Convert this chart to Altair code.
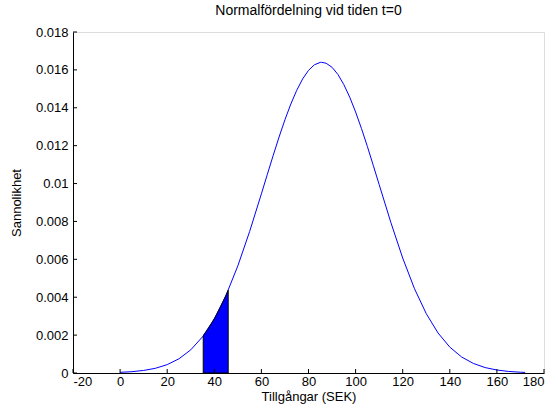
import altair as alt
import pandas as pd

# Curve
curve_x = [0, 5, 10, 15, 20, 25, 30, 35, 40, 45, 50, 55, 60, 62.5, 65, 67.5, 70, 72.5, 75,
           77.5, 80, 82.5, 85, 85.6, 87.5, 90, 92.5, 95, 97.5, 100, 102.5, 105, 107.5, 110,
           115, 120, 125, 130, 135, 140, 145, 150, 155, 160, 165, 170, 172]
curve_y = [0.0000349, 0.0000699, 0.000135, 0.000249, 0.000442, 0.000751, 0.001223, 0.001909,
           0.002860, 0.004108, 0.005656, 0.007470, 0.009458, 0.010477, 0.011483, 0.012456,
           0.013368, 0.014199, 0.014922, 0.015521, 0.015974, 0.016268, 0.016395, 0.016400,
           0.016350, 0.016136, 0.015757, 0.015227, 0.014562, 0.013779, 0.012902, 0.011956,
           0.010962, 0.009947, 0.007936, 0.006070, 0.004452, 0.003132, 0.002113, 0.001366,
           0.000847, 0.000504, 0.000287, 0.000157, 0.0000823, 0.0000414, 0.000031]

# Shaded region
shade_x = [35.3, 37, 39, 41, 43, 45, 45.9]
shade_y = [0.001958, 0.002256, 0.002647, 0.003085, 0.003572, 0.004108, 0.004364]

x_ticks = [-20, 0, 20, 40, 60, 80, 100, 120, 140, 160, 180]
y_ticks = [0, 0.002, 0.004, 0.006, 0.008, 0.010, 0.012, 0.014, 0.016, 0.018]

W, H = 471, 341
FONT = "Liberation Sans"
FS = 13

xs = alt.Scale(domain=[-20, 180], nice=False, zero=False)
ys = alt.Scale(domain=[0, 0.018], nice=False, zero=False)

x_axis = alt.Axis(values=x_ticks, grid=False, tickSize=0, labelPadding=2,
                  labelExpr="'' + datum.value",
                  domainColor="black", labelColor="black", titleColor="black",
                  labelFont=FONT, titleFont=FONT, labelFontSize=FS, titleFontSize=FS,
                  titleFontWeight="normal", titlePadding=2)
y_axis = alt.Axis(values=y_ticks, grid=False, tickSize=0, labelPadding=5,
                  format=".3~f", domainColor="black", labelColor="black",
                  titleColor="black", labelFont=FONT, titleFont=FONT,
                  labelFontSize=FS, titleFontSize=FS, titleFontWeight="normal",
                  titlePadding=12)


def X():
    return alt.X("x:Q", scale=xs, title="Tillgångar (SEK)", axis=x_axis)


def Y():
    return alt.Y("y:Q", scale=ys, title="Sannolikhet", axis=y_axis)


curve_df = pd.DataFrame({"x": curve_x, "y": curve_y})
shade_df = pd.DataFrame({"x": shade_x, "y": shade_y})
xt_df = pd.DataFrame({"x": x_ticks})
yt_df = pd.DataFrame({"y": y_ticks})

line = alt.Chart(curve_df).mark_line(color="#0000FF", strokeWidth=1).encode(x=X(), y=Y())

area = alt.Chart(shade_df).mark_area(color="#0000FF", stroke="black", strokeWidth=1).encode(
    x=X(), y=Y())

xticks = alt.Chart(xt_df).mark_rule(color="black", strokeWidth=1).encode(
    x=X(), y=alt.value(H), y2=alt.value(H - 4))

yticks = alt.Chart(yt_df).mark_rule(color="black", strokeWidth=1).encode(
    y=Y(), x=alt.value(0), x2=alt.value(4))

chart = alt.layer(line, area, xticks, yticks).properties(
    width=W, height=H,
    title=alt.TitleParams("Normalfördelning vid tiden t=0", font=FONT, fontSize=14,
                          fontWeight="normal", color="black", anchor="middle", offset=8),
    autosize=alt.AutoSizeParams(type="none"),
    padding={"left": 73, "top": 32, "right": 14, "bottom": 40},
).configure_view(stroke=None).configure(background="white")

chart.save("out.html", embed_options={"renderer": "svg", "actions": False})
